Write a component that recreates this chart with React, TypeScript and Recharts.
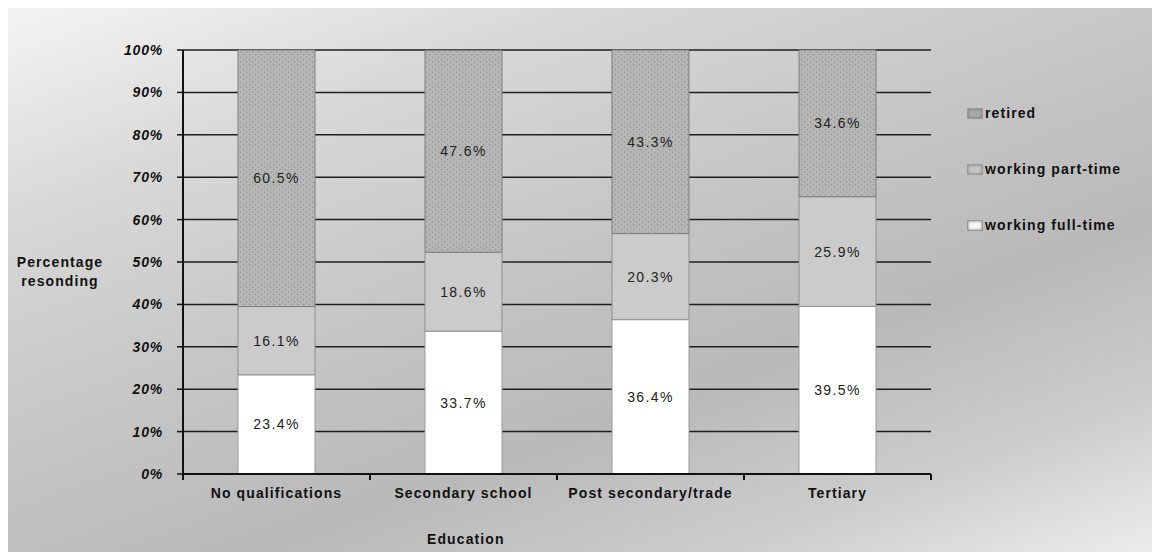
import React from 'react';
import { BarChart, Bar, XAxis, YAxis, CartesianGrid, LabelList } from 'recharts';

const categories = ['No qualifications', 'Secondary school', 'Post secondary/trade', 'Tertiary'];
const fullTime = [23.4, 33.7, 36.4, 39.5];
const partTime = [16.1, 18.6, 20.3, 25.9];
const retired = [60.5, 47.6, 43.3, 34.6];
const yTicks = [0, 10, 20, 30, 40, 50, 60, 70, 80, 90, 100];

const data = categories.map((name, i) => ({
  name,
  fullTime: fullTime[i],
  partTime: partTime[i],
  retired: retired[i],
}));

const legendItems = [
  { label: 'retired', swatch: '#a8a8a8' },
  { label: 'working part-time', swatch: '#c4c4c4' },
  { label: 'working full-time', swatch: '#f8f8f8' },
];

const W = 1144;
const H = 544;
const M = { top: 42, right: 221, left: 0, bottom: 40 };
const Y_AXIS_W = 175;
const FONT = '"Liberation Sans", Arial, sans-serif';

const fmt = (v: any) => `${Number(v).toFixed(1)}%`;

// category ticks sit between bars, label centred under the bar
function CatTick(props: any) {
  const { x, y, payload, index } = props;
  const half = (W - M.right - Y_AXIS_W) / categories.length / 2;
  return (
    <g>
      <line x1={x - half} x2={x - half} y1={y - 8} y2={y - 2} stroke="#111" strokeWidth={2} />
      {index === categories.length - 1 && (
        <line x1={x + half} x2={x + half} y1={y - 8} y2={y - 2} stroke="#111" strokeWidth={2} />
      )}
      <text
        x={x}
        y={y + 16}
        textAnchor="middle"
        fontSize={14}
        fontWeight="bold"
        letterSpacing={1.1}
        fill="#111"
      >
        {payload.value}
      </text>
    </g>
  );
}

export default function App() {
  return (
    <div
      style={{
        position: 'relative',
        width: W,
        height: H,
        fontFamily: FONT,
        background:
          'linear-gradient(160deg, #f4f4f4 0%, #d8d8d8 22%, #c4c4c4 48%, #b9b9b9 66%, #cdcdcd 84%, #ececec 100%)',
      }}
    >
      <BarChart width={W} height={H} data={data} margin={M} barSize={77} style={{ fontFamily: FONT }}>
        <defs>
          <pattern id="dots" width="6" height="5" patternUnits="userSpaceOnUse">
            <rect width="6" height="5" fill="#b6b6b6" />
            <rect x="1" y="1" width="1.2" height="1.2" fill="#8e8e8e" />
            <rect x="4" y="3.5" width="1.2" height="1.2" fill="#8e8e8e" />
          </pattern>
        </defs>
        <CartesianGrid vertical={false} stroke="#1e1e1e" strokeWidth={1.5} />
        <XAxis
          dataKey="name"
          height={38}
          tickLine={false}
          axisLine={{ stroke: '#111', strokeWidth: 2 }}
          tick={<CatTick />}
          interval={0}
        />
        <YAxis
          width={Y_AXIS_W}
          domain={[0, 100]}
          ticks={yTicks}
          tickFormatter={(v) => `${v}%`}
          tickSize={6}
          tickMargin={14}
          tickLine={{ stroke: '#111', strokeWidth: 1.5 }}
          axisLine={{ stroke: '#111', strokeWidth: 2 }}
          tick={{ fontSize: 14, fontWeight: 'bold', fontStyle: 'italic', fill: '#111', letterSpacing: 0.8 }}
        />
        <YAxis
          yAxisId="r"
          orientation="right"
          width={0}
          domain={[0, 100]}
          tick={false}
          tickLine={false}
          axisLine={{ stroke: '#111', strokeWidth: 2 }}
        />
        <Bar dataKey="fullTime" name="working full-time" stackId="a" fill="#ffffff" stroke="#9a9a9a" isAnimationActive={false}>
          <LabelList dataKey="fullTime" position="center" formatter={fmt} fontSize={14} letterSpacing={1.4} fill="#222" />
        </Bar>
        <Bar dataKey="partTime" name="working part-time" stackId="a" fill="#cbcbcb" stroke="#8f8f8f" isAnimationActive={false}>
          <LabelList dataKey="partTime" position="center" formatter={fmt} fontSize={14} letterSpacing={1.4} fill="#222" />
        </Bar>
        <Bar dataKey="retired" name="retired" stackId="a" fill="url(#dots)" stroke="#7f7f7f" isAnimationActive={false}>
          <LabelList dataKey="retired" position="center" formatter={fmt} fontSize={14} letterSpacing={1.4} fill="#222" />
        </Bar>
      </BarChart>
      <div style={{ position: 'absolute', left: 959, top: 96, display: 'flex', flexDirection: 'column', gap: 38 }}>
        {legendItems.map((it) => (
          <div key={it.label} style={{ display: 'flex', alignItems: 'center', height: 18 }}>
            <span
              style={{
                display: 'inline-block',
                width: 14,
                height: 9,
                background: it.swatch,
                border: '1px solid #999',
                boxShadow: 'inset 0 0 3px #777',
                marginRight: 2,
              }}
            />
            <span style={{ fontSize: 14, fontWeight: 'bold', color: '#111', letterSpacing: 1.1 }}>{it.label}</span>
          </div>
        ))}
      </div>
      <div
        style={{
          position: 'absolute',
          left: 0,
          top: 245,
          width: 104,
          textAlign: 'center',
          fontSize: 14,
          fontWeight: 'bold',
          lineHeight: '19px',
          letterSpacing: 1.1,
          color: '#111',
        }}
      >
        Percentage
        <br />
        resonding
      </div>
      <div
        style={{
          position: 'absolute',
          left: 419,
          top: 523,
          fontSize: 14,
          fontWeight: 'bold',
          letterSpacing: 1.1,
          color: '#111',
        }}
      >
        Education
      </div>
    </div>
  );
}
